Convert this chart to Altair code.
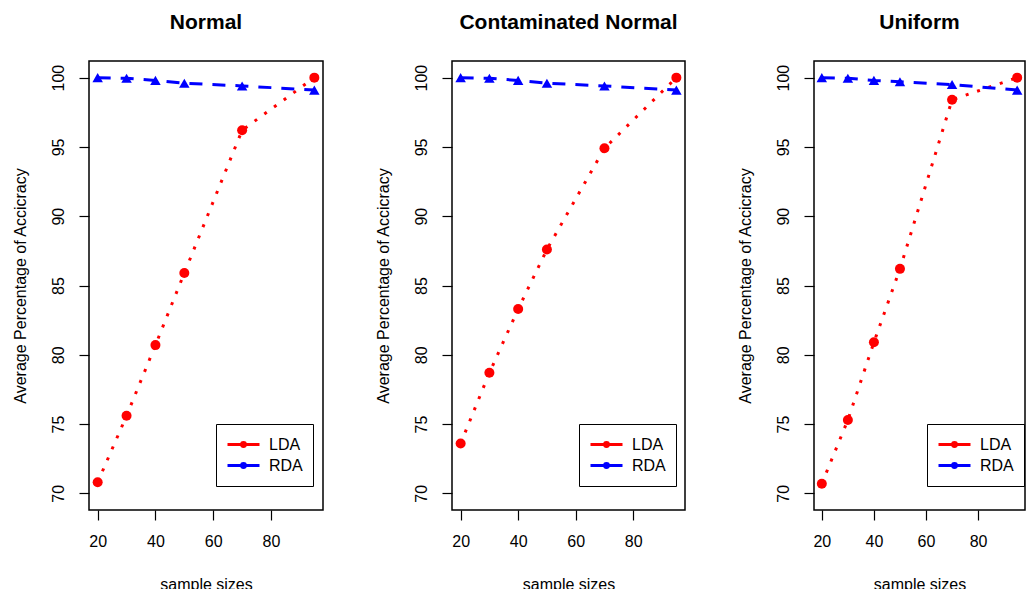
import altair as alt
import pandas as pd

sizes = [20, 30, 40, 50, 70, 95]
methods = ["LDA", "RDA"]
panel_titles = ["Normal", "Contaminated Normal", "Uniform"]

lda_normal = [70.8, 75.6, 80.7, 85.9, 96.2, 100.0]
rda_normal = [100.0, 99.95, 99.8, 99.6, 99.4, 99.1]
lda_contam = [73.6, 78.7, 83.3, 87.6, 94.9, 100.0]
rda_contam = [100.0, 99.95, 99.8, 99.6, 99.4, 99.1]
lda_uniform = [70.7, 75.3, 80.9, 86.2, 98.4, 100.0]
rda_uniform = [100.0, 99.95, 99.8, 99.7, 99.5, 99.1]

FONT = "Liberation Sans"
LEGEND_PATH = "M-1,0H1M-0.12,0A0.12,0.12,0,1,0,0.12,0A0.12,0.12,0,1,0,-0.12,0Z"


def make_chart(use_encode):
    def panel(title, lda, rda, width, legend_x):
        df = pd.DataFrame({
            "size": sizes * 2,
            "acc": lda + rda,
            "method": ["LDA"] * len(sizes) + ["RDA"] * len(sizes),
        })
        x = alt.X("size:Q",
                  scale=alt.Scale(domain=[17, 98], nice=False, zero=False),
                  axis=alt.Axis(values=[20, 40, 60, 80], title="sample sizes",
                                labelPadding=13, titlePadding=27))
        y = alt.Y("acc:Q",
                  scale=alt.Scale(domain=[68.8, 101.2], nice=False, zero=False),
                  axis=alt.Axis(values=[70, 75, 80, 85, 90, 95, 100],
                                title="Average Percentage of Accicracy",
                                labelAngle=270, labelAlign="center",
                                labelBaseline="bottom", labelPadding=13,
                                titlePadding=22))
        cscale = alt.Scale(domain=methods, range=["#ff0000", "#0000ff"])
        legend_kw = dict(title=None, orient="none",
                         legendX=legend_x, legendY=363,
                         symbolType=LEGEND_PATH, symbolSize=1024,
                         symbolStrokeWidth=3, clipHeight=21,
                         labelFont=FONT, labelFontSize=16,
                         labelColor="black",
                         strokeColor="black", padding=10,
                         rowPadding=0, labelOffset=8)
        if use_encode:
            legend_kw["encode"] = {"symbols": {"update": {
                "strokeDash": {"value": [1, 0]}}}}
        base = alt.Chart(df)
        lda_line = base.transform_filter(alt.datum.method == "LDA").mark_line(
            strokeWidth=3, strokeCap="butt", strokeDash=[3, 9]
        ).encode(x=x, y=y,
                 color=alt.Color("method:N", scale=cscale,
                                 legend=alt.Legend(**legend_kw)))
        rda_line = base.transform_filter(alt.datum.method == "RDA").mark_line(
            strokeWidth=3, strokeCap="butt", strokeDash=[13, 10]
        ).encode(x=x, y=y,
                 color=alt.Color("method:N", scale=cscale,
                                 legend=alt.Legend(**legend_kw)))
        lda_pts = base.transform_filter(alt.datum.method == "LDA").mark_point(
            filled=True, size=100, opacity=1, shape="circle", color="#ff0000"
        ).encode(x=x, y=y)
        rda_pts = base.transform_filter(alt.datum.method == "RDA").mark_point(
            filled=True, size=110, opacity=1, shape="triangle-up", color="#0000ff"
        ).encode(x=x, y=y)
        return alt.layer(lda_line, rda_line, lda_pts, rda_pts).properties(
            width=width, height=449,
            title=alt.TitleParams(title, fontSize=21, fontWeight="bold",
                                  font=FONT, anchor="middle", offset=28,
                                  color="black"),
        )

    return alt.hconcat(
        panel(panel_titles[0], lda_normal, rda_normal, 234, 127),
        panel(panel_titles[1], lda_contam, rda_contam, 233, 127),
        panel(panel_titles[2], lda_uniform, rda_uniform, 211, 113),
        spacing=50,
    ).resolve_scale(color="independent").resolve_legend(
        color="independent").properties(
        padding={"left": 3, "top": 3, "right": 0, "bottom": 0},
    ).configure_view(stroke="black", strokeWidth=1.5).configure_axis(
        grid=False, domain=False, tickColor="black", tickSize=10, tickWidth=1.2,
        labelFont=FONT, labelFontSize=16, labelColor="black",
        titleFont=FONT, titleFontSize=16, titleFontWeight="normal",
        titleColor="black",
    )


try:
    chart = make_chart(True)
    chart.to_dict()
except Exception:
    chart = make_chart(False)

chart.save("out.html", embed_options={"renderer": "svg", "actions": False})
